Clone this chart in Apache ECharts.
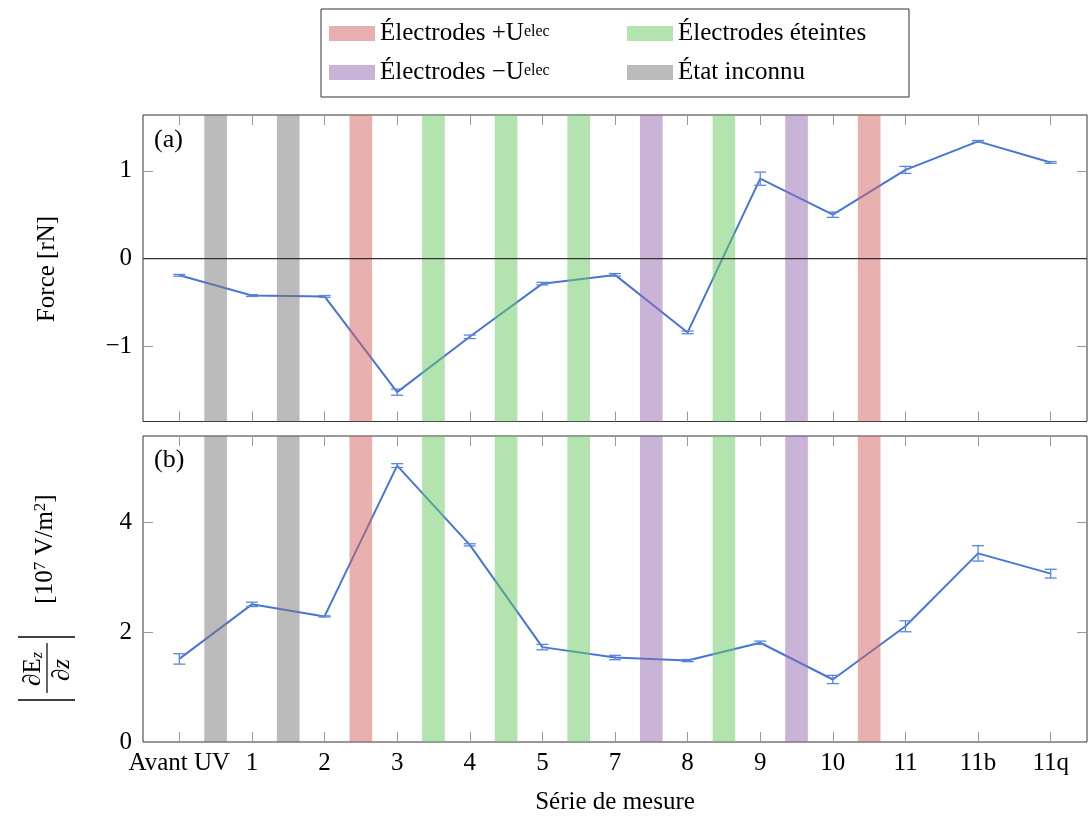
<!DOCTYPE html>
<html>
<head>
<meta charset="utf-8">
<script src="https://cdn.jsdelivr.net/npm/echarts@6/dist/echarts.min.js"></script>
<style>
  html, body { margin: 0; padding: 0; background: #fff; }
  #chart { width: 1088px; height: 821px; }
</style>
</head>
<body>
<div id="chart"></div>
<script>
// ---------------- data ----------------
const categories = ['Avant UV', '1', '2', '3', '4', '5', '7', '8', '9', '10', '11', '11b', '11q'];
const forceValues = [-0.19, -0.42, -0.43, -1.52, -0.89, -0.285, -0.185, -0.84, 0.91, 0.50, 1.01, 1.335, 1.095];
const forceErrors = [0.01, 0.01, 0.01, 0.035, 0.02, 0.015, 0.015, 0.015, 0.075, 0.03, 0.04, 0.01, 0.01];
const gradValues = [1.515, 2.51, 2.29, 5.04, 3.595, 1.73, 1.54, 1.485, 1.81, 1.14, 2.11, 3.44, 3.07];
const gradErrors = [0.095, 0.04, 0.01, 0.035, 0.02, 0.05, 0.04, 0.02, 0.03, 0.075, 0.1, 0.14, 0.08];
const bandPositions = [0.5, 1.5, 2.5, 3.5, 4.5, 5.5, 6.5, 7.5, 8.5, 9.5];
const bandStates = ['inconnu', 'inconnu', 'plus', 'eteint', 'eteint', 'eteint', 'moins', 'eteint', 'moins', 'plus'];
const forceTicks = [-1, 0, 1];
const gradTicks = [0, 2, 4];
const stateNames = {
  plus: 'Électrodes +Uelec',
  eteint: 'Électrodes éteintes',
  moins: 'Électrodes −Uelec',
  inconnu: 'État inconnu'
};
const legendRich = {
  'Électrodes +Uelec': 'Électrodes +U{s|elec}',
  'Électrodes éteintes': 'Électrodes éteintes',
  'Électrodes −Uelec': 'Électrodes −U{s|elec}',
  'État inconnu': 'État inconnu'
};

// ---------------- styles ----------------
const FONT = "'Liberation Serif', 'DejaVu Serif', serif";
const stateColors = {
  plus: 'rgba(209,97,93,0.5)',
  eteint: 'rgba(103,199,93,0.5)',
  moins: 'rgba(147,105,177,0.5)',
  inconnu: 'rgba(119,119,119,0.5)'
};
const LINE_COLOR = '#4676d6';
const ERR_COLOR = '#5b86de';
const BAND_HALF = 0.156;
const X_MIN = -0.5, X_MAX = 12.5;
const xTickValues = categories.map((c, i) => i);

const chart = echarts.init(document.getElementById('chart'), null, { renderer: 'canvas' });

function bandRenderer(fill) {
  return function (params, api) {
    const cs = params.coordSys;
    const x0 = api.coord([api.value(0) - BAND_HALF, 0])[0];
    const x1 = api.coord([api.value(0) + BAND_HALF, 0])[0];
    return { type: 'rect', shape: { x: x0, y: cs.y, width: x1 - x0, height: cs.height }, style: { fill: fill } };
  };
}
function errRenderer(params, api) {
  const x = api.value(0);
  const pLo = api.coord([x, api.value(1)]);
  const pHi = api.coord([x, api.value(2)]);
  const cap = 6;
  const st = { stroke: ERR_COLOR, lineWidth: 1.3 };
  return {
    type: 'group', children: [
      { type: 'line', shape: { x1: pLo[0], y1: pLo[1], x2: pHi[0], y2: pHi[1] }, style: st },
      { type: 'line', shape: { x1: pLo[0] - cap, y1: pLo[1], x2: pLo[0] + cap, y2: pLo[1] }, style: st },
      { type: 'line', shape: { x1: pHi[0] - cap, y1: pHi[1], x2: pHi[0] + cap, y2: pHi[1] }, style: st }
    ]
  };
}

const tickStyle = { show: true, inside: true, length: 10, lineStyle: { color: '#999', width: 1 } };

function xAxisDef(gridIndex, position, withLabels) {
  return {
    type: 'value', gridIndex: gridIndex, position: position, min: X_MIN, max: X_MAX,
    axisLine: { show: false, onZero: false }, splitLine: { show: false },
    axisTick: Object.assign({ customValues: xTickValues }, tickStyle),
    axisLabel: withLabels ? {
      show: true, customValues: xTickValues, margin: 9,
      formatter: v => categories[Math.round(v)],
      fontFamily: FONT, fontSize: 25, color: '#000'
    } : { show: false },
    name: withLabels ? 'Série de mesure' : '',
    nameLocation: 'middle', nameGap: 48,
    nameTextStyle: { fontFamily: FONT, fontSize: 25, color: '#000' }
  };
}
function yAxisDef(gridIndex, position, min, max, ticks, withLabels) {
  return {
    type: 'value', gridIndex: gridIndex, position: position, min: min, max: max,
    axisLine: { show: false, onZero: false }, splitLine: { show: false },
    axisTick: Object.assign({ customValues: ticks }, tickStyle),
    axisLabel: withLabels ? {
      show: true, customValues: ticks, margin: 11,
      formatter: v => (v < 0 ? '\u2212' + Math.abs(v) : String(v)),
      fontFamily: FONT, fontSize: 25, color: '#000'
    } : { show: false }
  };
}

const series = [];
const panels = [
  { values: forceValues, errors: forceErrors, xi: 0, yi: 0 },
  { values: gradValues, errors: gradErrors, xi: 2, yi: 2 }
];
panels.forEach(p => {
  series.push({
    type: 'line', xAxisIndex: p.xi, yAxisIndex: p.yi, z: 2,
    data: p.values.map((v, i) => [i, v]),
    symbol: 'none', lineStyle: { color: LINE_COLOR, width: 2 }, itemStyle: { color: LINE_COLOR },
    silent: true
  });
  series.push({
    type: 'custom', xAxisIndex: p.xi, yAxisIndex: p.yi, z: 4,
    data: p.values.map((v, i) => [i, v - p.errors[i], v + p.errors[i]]),
    encode: { x: 0, y: [1, 2] },
    renderItem: errRenderer, silent: true
  });
  Object.keys(stateNames).forEach(st => {
    const d = bandPositions.filter((b, i) => bandStates[i] === st).map(b => [b]);
    series.push({
      type: 'custom', name: stateNames[st], xAxisIndex: p.xi, yAxisIndex: p.yi, z: 3,
      itemStyle: { color: stateColors[st] },
      data: d, encode: { x: 0 },
      renderItem: bandRenderer(stateColors[st]), silent: true
    });
  });
});
// zero line in top panel
series.push({
  type: 'line', xAxisIndex: 0, yAxisIndex: 0, z: 10, silent: true,
  data: [[X_MIN, 0], [X_MAX, 0]], symbol: 'none',
  lineStyle: { color: '#333', width: 1.2 }
});

const option = {
  animation: false,
  backgroundColor: '#fff',
  title: [
    { text: '(a)', left: 154, top: 127, padding: 0, textStyle: { fontFamily: FONT, fontSize: 26, fontWeight: 'normal', color: '#000' } },
    { text: '(b)', left: 154, top: 447, padding: 0, textStyle: { fontFamily: FONT, fontSize: 26, fontWeight: 'normal', color: '#000' } }
  ],
  legend: {
    left: 321, top: 9, width: 580, orient: 'horizontal',
    padding: [11, 8, 11, 8], itemGap: 12, itemWidth: 46, itemHeight: 15,
    icon: 'rect', borderColor: '#333', borderWidth: 1, selectedMode: false,
    data: [
      { name: stateNames.plus, textStyle: { width: 235 } },
      { name: stateNames.eteint, textStyle: { width: 223 } },
      { name: stateNames.moins, textStyle: { width: 235 } },
      { name: stateNames.inconnu, textStyle: { width: 223 } }
    ],
    formatter: name => legendRich[name],
    textStyle: {
      fontFamily: FONT, fontSize: 25, color: '#000', lineHeight: 27,
      rich: { s: { fontFamily: FONT, fontSize: 16, color: '#000', padding: [0, 0, 4, 0] } }
    }
  },
  grid: [
    { left: 143, top: 115, width: 944, height: 306.5, show: true, borderColor: '#333', borderWidth: 1, backgroundColor: 'transparent' },
    { left: 143, top: 436, width: 944, height: 306, show: true, borderColor: '#333', borderWidth: 1, backgroundColor: 'transparent' }
  ],
  xAxis: [
    xAxisDef(0, 'bottom', false),
    xAxisDef(0, 'top', false),
    xAxisDef(1, 'bottom', true),
    xAxisDef(1, 'top', false)
  ],
  yAxis: [
    yAxisDef(0, 'left', -1.854, 1.635, forceTicks, true),
    yAxisDef(0, 'right', -1.854, 1.635, forceTicks, false),
    yAxisDef(1, 'left', 0, 5.58, gradTicks, true),
    yAxisDef(1, 'right', 0, 5.58, gradTicks, false)
  ],
  graphic: [
    {
      type: 'text', x: 47, y: 269, rotation: Math.PI / 2,
      style: { text: 'Force [rN]', fontFamily: FONT, fontSize: 25, fill: '#000', align: 'center', verticalAlign: 'middle', textAlign: 'center', textVerticalAlign: 'middle' }
    },
    {
      type: 'group', x: 47, y: 700, rotation: Math.PI / 2,
      children: [
        { type: 'line', shape: { x1: 0, y1: -29, x2: 0, y2: 28 }, style: { stroke: '#000', lineWidth: 1.6 } },
        { type: 'line', shape: { x1: 63, y1: -29, x2: 63, y2: 28 }, style: { stroke: '#000', lineWidth: 1.6 } },
        { type: 'line', shape: { x1: 7, y1: 0, x2: 57, y2: 0 }, style: { stroke: '#000', lineWidth: 1.2 } },
        {
          type: 'text', x: 31, y: -14,
          style: {
            text: '\u2202E{z|z}', fontFamily: FONT, fontSize: 25, fill: '#000',
            align: 'center', verticalAlign: 'middle', textAlign: 'center', textVerticalAlign: 'middle',
            rich: { z: { fontFamily: FONT, fontSize: 16, fontStyle: 'italic', fill: '#000', padding: [10, 0, 0, 0] } }
          }
        },
        {
          type: 'text', x: 30, y: 15,
          style: {
            text: '\u2202{i|z}', fontFamily: FONT, fontSize: 25, fill: '#000',
            align: 'center', verticalAlign: 'middle', textAlign: 'center', textVerticalAlign: 'middle',
            rich: { i: { fontFamily: FONT, fontSize: 25, fontStyle: 'italic', fill: '#000' } }
          }
        },
        {
          type: 'text', x: 151, y: -2,
          style: {
            text: '[10{s|7} V/m{s|2}]', fontFamily: FONT, fontSize: 25, fill: '#000',
            align: 'center', verticalAlign: 'middle', textAlign: 'center', textVerticalAlign: 'middle',
            rich: { s: { fontFamily: FONT, fontSize: 17, fill: '#000', padding: [0, 0, 8, 0] } }
          }
        }
      ]
    }
  ],
  series: series
};
chart.setOption(option);
</script>
</body>
</html>
